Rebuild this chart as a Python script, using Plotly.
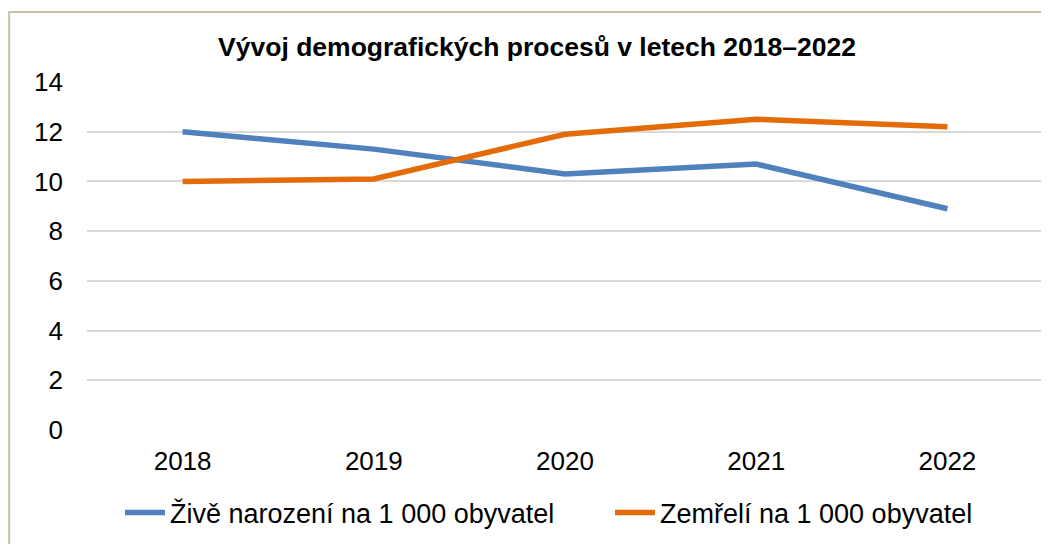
import plotly.graph_objects as go

years = ["2018", "2019", "2020", "2021", "2022"]
zive_narozeni = [12.0, 11.3, 10.3, 10.7, 8.9]
zemreli = [10.0, 10.1, 11.9, 12.5, 12.2]
y_ticks = [0, 2, 4, 6, 8, 10, 12, 14]

title_text = "Vývoj demografických procesů v letech 2018–2022"
name_born = "Živě narození na 1 000 obyvatel"
name_died = "Zemřelí na 1 000 obyvatel"

OFF = 8  # page body margin
W, H = 1049 - OFF, 544 - OFF
ml, mr, mt, mb = 87 - OFF, 6, 82 - OFF, 114
pw, ph = W - ml - mr, H - mt - mb

FONT = "Liberation Sans, Arial, sans-serif"

fig = go.Figure()
fig.add_trace(go.Scatter(x=years, y=zive_narozeni, mode="lines", name=name_born,
                         line=dict(color="#4F81BD", width=5.5), legend="legend"))
fig.add_trace(go.Scatter(x=years, y=zemreli, mode="lines", name=name_died,
                         line=dict(color="#E36C09", width=5.5), legend="legend2"))

# outer chart border (tan); left and top visible, right/bottom beyond the page
fig.add_shape(type="rect", xref="paper", yref="paper",
              x0=(1.2 - ml) / pw, x1=(W + 10 - ml) / pw,
              y0=-(mb + 10) / ph, y1=1 + (mt - (12 - OFF)) / ph,
              line=dict(color="#C9C29F", width=2), fillcolor="rgba(0,0,0,0)", layer="below")

leg_common = dict(orientation="h", xanchor="left", y=(430 - 513) / ph, yanchor="middle",
                  yref="paper", font=dict(family=FONT, size=27, color="#000000"),
                  itemwidth=40, bgcolor="rgba(0,0,0,0)")

fig.update_layout(
    width=W, height=H,
    margin=dict(l=ml, r=mr, t=mt, b=mb, autoexpand=False),
    paper_bgcolor="white", plot_bgcolor="white",
    font=dict(family=FONT, size=26, color="#000000"),
    title=dict(text="<b>" + title_text + "</b>", x=(537 - OFF) / W, xref="container",
               xanchor="center", y=1 - (47 - OFF) / H, yref="container", yanchor="middle",
               font=dict(family=FONT, size=26.5, color="#000000")),
    xaxis=dict(type="category", range=[-0.5, 4.5], showgrid=False, showline=False,
               zeroline=False, ticks="", ticklabelstandoff=13,
               tickfont=dict(family=FONT, size=26, color="#000000")),
    yaxis=dict(range=[0, 14], tickvals=y_ticks, showgrid=True, gridcolor="#D9D9D9",
               gridwidth=2, zeroline=False, showline=False, ticks="",
               ticklabelstandoff=23,
               tickfont=dict(family=FONT, size=26, color="#000000")),
    legend=dict(x=(120 - 87) / pw, **leg_common),
    legend2=dict(x=(610 - 87) / pw, **leg_common),
    showlegend=True,
)

fig.write_html("out.html")
